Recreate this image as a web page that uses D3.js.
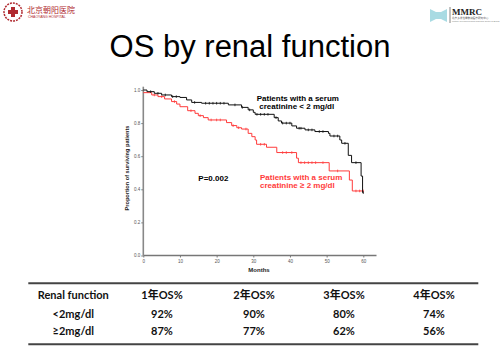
<!DOCTYPE html>
<html><head><meta charset="utf-8">
<script src="https://cdn.jsdelivr.net/npm/d3@7/dist/d3.min.js"></script>
<style>body{margin:0;background:#fff}svg{display:block}</style>
</head><body><svg id="c" width="500" height="358"></svg>
<script>
const title = "OS by renal function";
const blackT = [0, 1, 3, 5, 7.7, 10, 11.8, 13.2, 15.9, 23.2, 26.8, 28.6, 30, 30.5, 35.7, 36.8, 37.7, 40.5, 41.8, 44.1, 46.8, 50.5, 50.9, 53.6, 54.1, 55.9, 56.8, 59.4, 59.8];
const blackS = [1.0, 0.99, 0.98, 0.97, 0.96, 0.955, 0.94, 0.925, 0.92, 0.91, 0.895, 0.88, 0.865, 0.853, 0.833, 0.813, 0.80, 0.783, 0.769, 0.759, 0.749, 0.738, 0.722, 0.698, 0.678, 0.605, 0.561, 0.48, 0.38];
const redT = [0, 2.3, 4, 5.8, 7.7, 9.1, 10, 12.1, 14.1, 15, 16.4, 17.7, 22.7, 24.1, 25.5, 26.8, 28.6, 29.6, 30.5, 30.9, 33.6, 36.4, 41.8, 42.3, 50.7, 56.2, 57];
const redS = [0.984, 0.97, 0.96, 0.946, 0.93, 0.915, 0.899, 0.875, 0.859, 0.845, 0.833, 0.819, 0.803, 0.785, 0.772, 0.764, 0.738, 0.718, 0.698, 0.672, 0.654, 0.622, 0.588, 0.561, 0.511, 0.456, 0.39];
const endTime = 60;
const blackCensor = [2, 4, 6, 8, 9, 14, 17, 18, 19, 20, 21, 22, 25, 27, 29, 31, 32, 33, 34, 36.2, 38, 39, 40, 42.5, 43, 45, 46, 48, 49, 52, 53, 55, 58, 60];
const redCensor = [3, 5, 8.5, 13, 15.5, 18.5, 20, 21, 24.5, 26, 28, 32, 33, 38, 39, 40.5, 43, 44, 45, 46, 47, 49, 53, 58, 59, 60];
const xTicks = [0, 10, 20, 30, 40, 50, 60];
const yTicks = [0, 0.2, 0.4, 0.6, 0.8, 1.0];
const tableHeader = ["Renal function", "1年OS%", "2年OS%", "3年OS%", "4年OS%"];
const tableRows = [["<2mg/dl", "92%", "90%", "80%", "74%"], ["≥2mg/dl", "87%", "77%", "62%", "56%"]];

const svg = d3.select("#c");
const x = d3.scaleLinear().domain([0, 60]).range([143.3, 363.3]);
const y = d3.scaleLinear().domain([0, 1]).range([255.5, 90]);

// title
svg.append("text").attr("x", 250).attr("y", 56.5).attr("text-anchor", "middle")
  .attr("font-family", "Liberation Sans, Arial").attr("font-size", 31).attr("fill", "#000").text(title);

// logos (left)
const lg = svg.append("g");
lg.append("circle").attr("cx", 13).attr("cy", 12).attr("r", 9).attr("fill", "none").attr("stroke", "#b02a30").attr("stroke-width", 1.5).attr("stroke-dasharray", "2,1");
lg.append("path").attr("d", "M11,7h4v3h3v4h-3v3h-4v-3h-3v-4h3z").attr("fill", "#b02a30");
lg.append("text").attr("x", 27).attr("y", 12.5).attr("font-family", "Noto Sans CJK SC").attr("font-size", 8).attr("fill", "#b02a30").text("北京朝阳医院");
lg.append("text").attr("x", 28).attr("y", 17.5).attr("font-family", "Liberation Sans").attr("font-size", 3.5).attr("fill", "#b02a30").text("CHAOYANG HOSPITAL");
// right logo
const rg = svg.append("g");
rg.append("path").attr("d", "M430,9 L436,12 L441,12 L447,9 L447,22 L441,19 L436,19 L430,22Z").attr("fill", "#a9dbe3");
rg.append("line").attr("x1", 450).attr("x2", 450).attr("y1", 7).attr("y2", 23).attr("stroke", "#666").attr("stroke-width", 0.8);
rg.append("text").attr("x", 452).attr("y", 15).attr("font-family", "Liberation Serif").attr("font-weight", "bold").attr("font-size", 9).attr("fill", "#222").text("MMRC");
rg.append("text").attr("x", 452).attr("y", 19).attr("font-family", "Noto Sans CJK SC").attr("font-size", 2.6).attr("fill", "#555").text("北京多发性骨髓瘤医疗研究中心");
rg.append("text").attr("x", 452).attr("y", 22).attr("font-family", "Liberation Sans").attr("font-size", 2).attr("fill", "#777").text("Multiple Myeloma Medical Research Center of Beijing");

// axes
const axisCol = "#777";
const xAxis = svg.append("g").attr("transform", `translate(0,${y(0)})`)
  .call(d3.axisBottom(x).tickValues(xTicks).tickSize(2).tickPadding(2).tickFormat(d3.format("d")));
xAxis.select(".domain").remove();
xAxis.selectAll("line").attr("stroke", axisCol);
xAxis.selectAll("text").attr("font-size", 4.5).attr("fill", "#555").attr("font-family", "Liberation Sans");
svg.append("line").attr("x1", x(0)).attr("x2", x(63.6)).attr("y1", y(0)).attr("y2", y(0)).attr("stroke", axisCol).attr("stroke-width", 1.3);

const yAxis = svg.append("g").attr("transform", `translate(${x(0)},0)`)
  .call(d3.axisLeft(y).tickValues(yTicks).tickSize(2).tickPadding(1).tickFormat(d3.format(".1f")));
yAxis.select(".domain").remove();
yAxis.selectAll("line").attr("stroke", axisCol);
yAxis.selectAll("text").attr("font-size", 4.5).attr("fill", "#555").attr("font-family", "Liberation Sans");
svg.append("line").attr("x1", x(0)).attr("x2", x(0)).attr("y1", y(0)).attr("y2", y(1.02)).attr("stroke", "#888").attr("stroke-width", 1.6);

svg.append("text").attr("x", 259).attr("y", 272).attr("text-anchor", "middle").attr("font-family", "Liberation Sans").attr("font-weight", "bold").attr("font-size", 6).attr("fill", "#222").text("Months");
svg.append("text").attr("transform", "translate(129,168) rotate(-90)").attr("text-anchor", "middle").attr("font-family", "Liberation Sans").attr("font-weight", "bold").attr("font-size", 5.6).attr("fill", "#222").text("Proportion of surviving patients");

// curves
function stepPts(T, S) {
  const pts = T.map((t, i) => [t, S[i]]);
  pts.push([endTime, S[S.length - 1]]);
  return pts;
}
const line = d3.line().x(d => x(d[0])).y(d => y(d[1])).curve(d3.curveStepAfter);
function survAt(T, S, t) { const i = d3.bisectRight(T, t) - 1; return S[Math.max(0, i)]; }
function drawCurve(T, S, C, color) {
  svg.append("path").attr("d", line(stepPts(T, S))).attr("fill", "none").attr("stroke", color).attr("stroke-width", 1);
  svg.append("g").selectAll("line").data(C).join("line")
    .attr("x1", d => x(d)).attr("x2", d => x(d))
    .attr("y1", d => y(survAt(T, S, d)) - 1.3).attr("y2", d => y(survAt(T, S, d)) + 1.3)
    .attr("stroke", color).attr("stroke-width", 0.8);
}
drawCurve(redT, redS, redCensor, "#ff3b3b");
drawCurve(blackT, blackS, blackCensor, "#111");

// annotations
const ann = svg.append("g").attr("font-family", "Liberation Sans").attr("font-weight", "bold").attr("font-size", 8);
ann.append("text").attr("x", 256.7).attr("y", 100.8).attr("fill", "#000").text("Patients with a serum");
ann.append("text").attr("x", 259.3).attr("y", 108.6).attr("fill", "#000").text("creatinine < 2 mg/dl");
ann.append("text").attr("x", 198.3).attr("y", 180.8).attr("fill", "#000").text("P=0.002");
ann.append("text").attr("x", 260).attr("y", 180.3).attr("fill", "#ff3b3b").text("Patients with a serum");
ann.append("text").attr("x", 260).attr("y", 188).attr("fill", "#ff3b3b").text("creatinine ≥ 2 mg/dl");

// table
const colX = [73.3, 162, 254, 344, 434];
const rowY = [295.5, 314.5, 330.8];
svg.append("line").attr("x1", 28.3).attr("x2", 478.3).attr("y1", 283.3).attr("y2", 283.3).attr("stroke", "#444").attr("stroke-width", 2);
svg.append("line").attr("x1", 28.3).attr("x2", 478.3).attr("y1", 344.3).attr("y2", 344.3).attr("stroke", "#444").attr("stroke-width", 2);
const tg = svg.append("g").attr("font-family", "Lato, Noto Sans CJK SC").attr("font-weight", "bold").attr("font-size", 11).attr("fill", "#111").attr("text-anchor", "middle");
[tableHeader, ...tableRows].forEach((row, r) => {
  row.forEach((cell, c) => {
    tg.append("text").attr("x", colX[c]).attr("y", rowY[r]).attr("dy", "0.35em").text(cell);
  });
});
</script></body></html>
